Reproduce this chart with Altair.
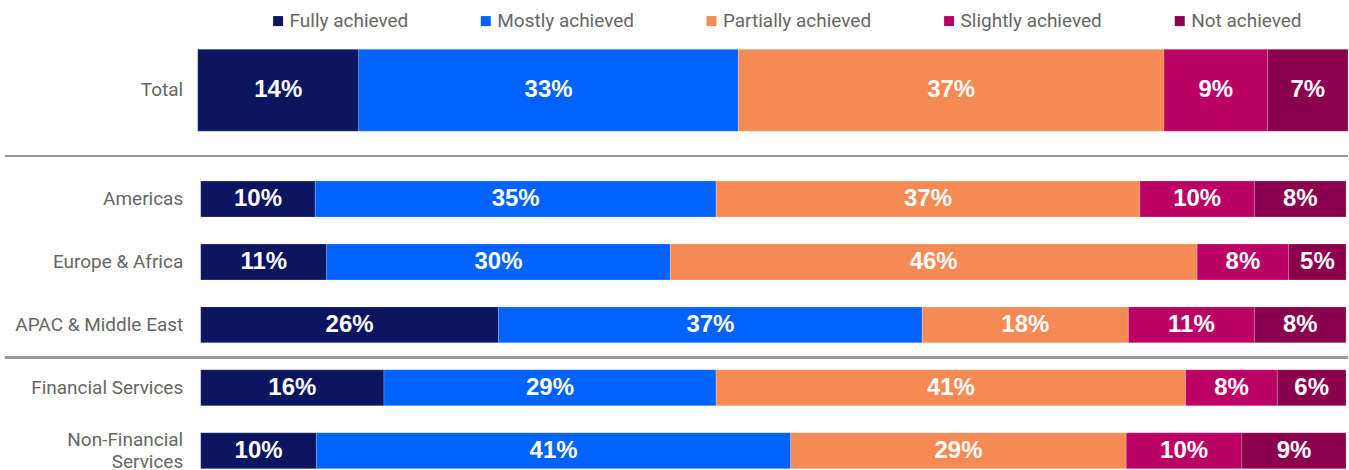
import altair as alt
import pandas as pd

categories = ["Fully achieved", "Mostly achieved", "Partially achieved", "Slightly achieved", "Not achieved"]
colors = ["#0b1560", "#0062ff", "#f68a54", "#bb0065", "#8a004c"]

total_rows = ["Total"]
total_values = [[14, 33, 37, 9, 7]]

group_rows = ["Americas", "Europe & Africa", "APAC & Middle East", "Financial Services", "Non-Financial Services"]
group_values = [
    [10, 35, 37, 10, 8],
    [11, 30, 46, 8, 5],
    [26, 37, 18, 11, 8],
    [16, 29, 41, 8, 6],
    [10, 41, 29, 10, 9],
]


def make_df(rows, values):
    recs = []
    for r, vals in zip(rows, values):
        for i, (c, v) in enumerate(zip(categories, vals)):
            recs.append({"row": r, "cat": c, "order": i, "value": v})
    return pd.DataFrame(recs)


df_total = make_df(total_rows, total_values)
df_groups = make_df(group_rows, group_values)

color_scale = alt.Scale(domain=categories, range=colors)
FONT = "Roboto"


def panel(df, rows, xrange, band_pad):
    base = alt.Chart(df).transform_stack(
        stack="value", groupby=["row"], as_=["x0", "x1"], offset="normalize",
        sort=[alt.SortField("order", order="ascending")],
    ).transform_calculate(
        mid="(datum.x0 + datum.x1) / 2",
        label="datum.value + '%'",
    )
    y = alt.Y(
        "row:N", sort=rows, title=None,
        scale=alt.Scale(paddingInner=band_pad, paddingOuter=0),
        axis=alt.Axis(
            domain=False, ticks=False, labelPadding=15, labelFontSize=19,
            labelColor="#666666", labelFont=FONT, labelLineHeight=22,
            labelExpr="datum.label == 'Non-Financial Services' ? ['Non-Financial', 'Services'] : datum.label",
            labelOffset=alt.condition("datum.value == 'Non-Financial Services'", alt.value(-11), alt.value(0)),
        ),
    )
    xscale = alt.Scale(domain=[0, 1], range=xrange)
    bars = base.mark_bar(stroke="white", strokeWidth=0.5, strokeOpacity=0.4).encode(
        x=alt.X("x0:Q", scale=xscale, axis=None),
        x2="x1:Q",
        y=y,
        color=alt.Color(
            "cat:N", scale=color_scale, sort=categories,
            legend=alt.Legend(
                title=None, orient="none", direction="horizontal", legendX=71, legendY=-38,
                symbolType="square", symbolSize=100, symbolStrokeWidth=0,
                labelFontSize=19, labelColor="#666666", labelFont=FONT,
                columnPadding=68, labelOffset=2,
            ),
        ),
    )
    text = base.mark_text(color="white", fontSize=24, fontWeight="bold", font="Liberation Sans").encode(
        x=alt.X("mid:Q", scale=xscale),
        y=alt.Y("row:N", sort=rows),
        text="label:N",
    )
    return bars, text


b1, t1 = panel(df_total, total_rows, [0, 1152], 0)
rule1 = alt.Chart(df_total).mark_rule(color="#999999", strokeWidth=2).encode(
    x=alt.value(-193), x2=alt.value(1152), y=alt.value(107)
)
top = alt.layer(b1, t1, rule1).properties(width=1152, height=82)

b2, t2 = panel(df_groups, group_rows, [3, 1150], 27 / 63)
rule2 = alt.Chart(df_groups).mark_rule(color="#999999", strokeWidth=2).encode(
    x=alt.value(-193), x2=alt.value(1152), y=alt.value(176.5)
)
bottom = alt.layer(b2, t2, rule2).properties(width=1152, height=288)

chart = alt.vconcat(top, bottom, spacing=23).properties(
    padding={"left": 4, "top": 11, "right": 0, "bottom": 0}
).configure_view(stroke=None).configure_concat(spacing=23)

chart.save("out.html", embed_options={"renderer": "svg", "actions": False})
